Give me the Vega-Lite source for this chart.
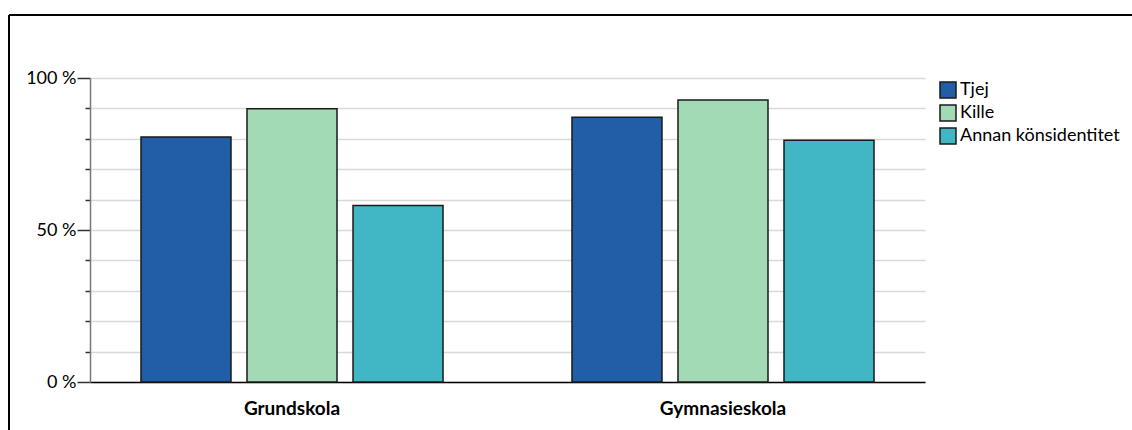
{
  "$schema": "https://vega.github.io/schema/vega-lite/v6.json",
  "width": 1123,
  "height": 415,
  "autosize": {"type": "none"},
  "padding": {"left": 9, "top": 15, "right": 0, "bottom": 0},
  "config": {
    "font": "Lato",
    "view": {"stroke": "#000000", "strokeWidth": 2, "strokeDash": [1124, 1536, 416, 0]}
  },
  "data": {
    "values": [
      {"skola": "Grundskola", "kon": "Tjej", "andel": 80.6},
      {"skola": "Grundskola", "kon": "Kille", "andel": 89.9},
      {"skola": "Grundskola", "kon": "Annan könsidentitet", "andel": 58.1},
      {"skola": "Gymnasieskola", "kon": "Tjej", "andel": 87.1},
      {"skola": "Gymnasieskola", "kon": "Kille", "andel": 92.8},
      {"skola": "Gymnasieskola", "kon": "Annan könsidentitet", "andel": 79.5}
    ]
  },
  "mark": {"type": "bar", "stroke": "#1a1a1a", "strokeWidth": 1.5},
  "encoding": {
    "x": {
      "field": "skola",
      "type": "nominal",
      "sort": null,
      "scale": {"range": [81, 916], "paddingInner": 0.0626, "paddingOuter": 0},
      "axis": {
        "title": null,
        "orient": "bottom",
        "offset": -48,
        "ticks": false,
        "labelAngle": 0,
        "labelFontWeight": "bold",
        "labelFontSize": 19,
        "labelColor": "#000000",
        "labelPadding": 17,
        "domainColor": "#000000",
        "domainWidth": 1.5
      }
    },
    "xOffset": {
      "field": "kon",
      "type": "nominal",
      "sort": ["Tjej", "Kille", "Annan könsidentitet"],
      "scale": {"paddingInner": 0.151, "paddingOuter": 0.481}
    },
    "y": {
      "field": "andel",
      "type": "quantitative",
      "scale": {"domain": [0, 100], "range": [367, 63], "nice": false},
      "axis": {
        "title": null,
        "offset": -81,
        "values": [0, 10, 20, 30, 40, 50, 60, 70, 80, 90, 100],
        "labelExpr": "datum.value % 50 === 0 ? datum.value + ' %' : ''",
        "tickSize": {"condition": {"test": "datum.value % 50 === 0", "value": 13}, "value": 5},
        "tickColor": "#333333",
        "tickWidth": 1.5,
        "domainColor": "#777777",
        "domainWidth": 1.5,
        "grid": true,
        "gridColor": "#d9d9d9",
        "gridWidth": 1.5,
        "labelFontSize": 18,
        "labelColor": "#000000",
        "labelPadding": 1
      }
    },
    "color": {
      "field": "kon",
      "type": "nominal",
      "scale": {
        "domain": ["Tjej", "Kille", "Annan könsidentitet"],
        "range": ["#225ea8", "#a1dab4", "#41b6c4"]
      },
      "legend": {
        "title": null,
        "orient": "none",
        "legendX": 930,
        "legendY": 66,
        "padding": 0,
        "symbolType": "square",
        "symbolSize": 256,
        "symbolStrokeColor": "#1a1a1a",
        "symbolStrokeWidth": 1.5,
        "symbolOpacity": 1,
        "labelFontSize": 18,
        "labelColor": "#000000",
        "labelOffset": 3,
        "rowPadding": 1
      }
    }
  }
}
